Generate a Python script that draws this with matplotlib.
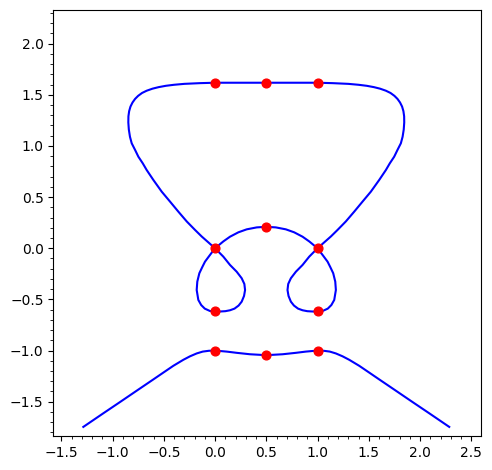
import numpy as np
import matplotlib.pyplot as plt
from matplotlib.ticker import MultipleLocator

# closed curve: upper loop, right small loop, middle arc, left small loop
curve_x = [0, -0.130, -0.195, -0.276, -0.358, -0.439, -0.520, -0.602, -0.667, -0.705,
           -0.748, -0.780, -0.813, -0.830, -0.841, -0.846, -0.845, -0.838, -0.825, -0.805,
           -0.780, -0.750, -0.712, -0.667, -0.610, -0.550, -0.480, -0.400, -0.300, -0.146,
           0, 0.25, 0.5, 0.75,
           1, 1.146, 1.300, 1.400, 1.480, 1.550, 1.610, 1.667, 1.712, 1.750,
           1.780, 1.805, 1.825, 1.838, 1.845, 1.846, 1.841, 1.830, 1.813, 1.780,
           1.748, 1.705, 1.667, 1.602, 1.520, 1.439, 1.358, 1.276, 1.195, 1.130, 1,
           0.919, 0.854, 0.789, 0.740, 0.714, 0.707, 0.717, 0.740, 0.770, 0.810, 0.854,
           0.900, 0.950, 1, 1.050, 1.100, 1.135, 1.163, 1.179, 1.173, 1.153, 1.125, 1.098, 1.049, 1,
           0.919, 0.854, 0.772, 0.691, 0.593, 0.5, 0.407, 0.309, 0.228, 0.146, 0.081, 0,
           -0.049, -0.098, -0.125, -0.153, -0.173, -0.179, -0.163, -0.135, -0.100, -0.050, 0, 0.050,
           0.100, 0.146, 0.190, 0.230, 0.260, 0.283, 0.293, 0.286, 0.260, 0.211, 0.146, 0.081, 0]
curve_y = [0, 0.115, 0.179, 0.262, 0.358, 0.456, 0.553, 0.668, 0.765, 0.830,
           0.895, 0.961, 1.026, 1.090, 1.160, 1.230, 1.290, 1.340, 1.385, 1.425,
           1.460, 1.490, 1.518, 1.540, 1.560, 1.575, 1.588, 1.598, 1.607, 1.614,
           1.618, 1.618, 1.618, 1.618,
           1.618, 1.614, 1.607, 1.598, 1.588, 1.575, 1.560, 1.540, 1.518, 1.490,
           1.460, 1.425, 1.385, 1.340, 1.290, 1.230, 1.160, 1.090, 1.026, 0.961,
           0.895, 0.830, 0.765, 0.668, 0.553, 0.456, 0.358, 0.262, 0.179, 0.115, 0,
           -0.082, -0.163, -0.229, -0.293, -0.349, -0.408, -0.466, -0.522, -0.560, -0.590, -0.606,
           -0.615, -0.618, -0.618, -0.613, -0.590, -0.555, -0.505, -0.408, -0.326, -0.244, -0.185, -0.131, -0.065, 0,
           0.067, 0.113, 0.156, 0.185, 0.204, 0.210, 0.204, 0.185, 0.156, 0.113, 0.067, 0,
           -0.065, -0.131, -0.185, -0.244, -0.326, -0.408, -0.505, -0.555, -0.590, -0.613, -0.618, -0.618,
           -0.615, -0.606, -0.590, -0.560, -0.522, -0.466, -0.408, -0.349, -0.293, -0.229, -0.163, -0.082, 0]

# lower open branch
low_x = [-1.285, -1.09, -0.927, -0.764, -0.602, -0.504, -0.407, -0.309, -0.244, -0.179,
         -0.120, -0.060, 0, 0.114, 0.211, 0.341, 0.5, 0.659, 0.789, 0.886, 1,
         1.060, 1.120, 1.179, 1.244, 1.309, 1.407, 1.504, 1.602, 1.764, 1.927, 2.09, 2.285]
low_y = [-1.746, -1.613, -1.503, -1.392, -1.282, -1.215, -1.149, -1.090, -1.056, -1.028,
         -1.010, -1.002, -1.0, -1.01, -1.022, -1.036, -1.045, -1.036, -1.022, -1.01, -1.0,
         -1.002, -1.010, -1.028, -1.056, -1.090, -1.149, -1.215, -1.282, -1.392, -1.503, -1.613, -1.746]

# red points
pts_x = [0, 0.5, 1, 0, 0.5, 1, 0, 1, 0, 0.5, 1]
pts_y = [1.618, 1.618, 1.618, 0, 0.21, 0, -0.618, -0.618, -1, -1.045, -1]

fig = plt.figure(figsize=(4.92, 4.70), dpi=100)
ax = fig.add_axes([53.3/492, 34/470, 427.4/492, 425.7/470])

ax.plot(curve_x, curve_y, color='blue', lw=1.5)
ax.plot(low_x, low_y, color='blue', lw=1.5)
ax.plot(pts_x, pts_y, 'o', color='red', markersize=6.3, zorder=5)

ax.set_xlim(-1.578, 2.592)
ax.set_ylim(-1.835, 2.326)

ax.xaxis.set_major_locator(MultipleLocator(0.5))
ax.xaxis.set_minor_locator(MultipleLocator(0.1))
ax.yaxis.set_major_locator(MultipleLocator(0.5))
ax.yaxis.set_minor_locator(MultipleLocator(0.1))

plt.savefig('out.png', dpi=100)
